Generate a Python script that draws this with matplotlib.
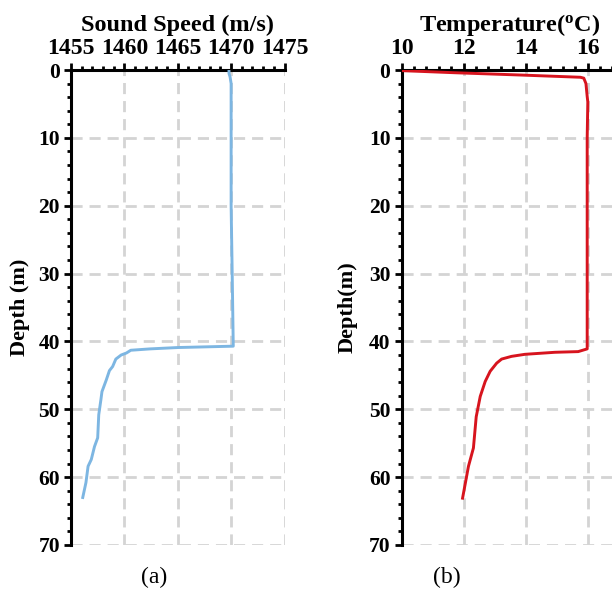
import matplotlib
matplotlib.use("Agg")
import matplotlib.pyplot as plt
from matplotlib.ticker import MultipleLocator

plt.rcParams['font.family'] = ['Liberation Serif', 'DejaVu Serif']
plt.rcParams['font.weight'] = 'bold'
plt.rcParams['mathtext.fontset'] = 'custom'
plt.rcParams['mathtext.rm'] = 'Liberation Serif:bold'
plt.rcParams['mathtext.bf'] = 'Liberation Serif:bold'
plt.rcParams['mathtext.it'] = 'Liberation Serif:bold'

# Sound speed profile
depth_ss = [0, 0.5, 1.0, 2, 10, 20, 30, 40.7, 40.9, 41.1, 41.3, 41.7, 42.0, 42.6,
            43.7, 44.3, 45.7, 47.4, 48.6, 50.8, 54.2, 55.5, 57.4, 58.4, 60.8, 63.0]
speed = [1469.8, 1469.8, 1469.9, 1470.0, 1470.0, 1470.0, 1470.1, 1470.2, 1465.0,
         1462.4, 1460.6, 1460.2, 1459.7, 1459.2, 1458.9, 1458.6, 1458.3, 1457.9,
         1457.8, 1457.6, 1457.5, 1457.2, 1456.9, 1456.6, 1456.4, 1456.1]

# Temperature profile
depth_t = [0.1, 0.4, 0.74, 1.07, 1.2, 2.0, 3.9, 4.7, 10, 20, 30, 41.1, 41.5, 41.6,
           41.9, 42.2, 42.6, 43.2, 44.4, 45.9, 48.1, 51.1, 55.7, 58.4, 63.1]
temp = [10.05, 11.7, 13.84, 15.77, 15.88, 15.95, 15.99, 16.01, 15.99, 15.99, 15.99,
        15.99, 15.7, 14.95, 13.98, 13.55, 13.23, 13.07, 12.86, 12.7, 12.54, 12.41,
        12.32, 12.16, 11.97]

ss_ticks = [1455, 1460, 1465, 1470, 1475]
t_ticks = [10, 12, 14, 16]
depth_ticks = [0, 10, 20, 30, 40, 50, 60, 70]

fig = plt.figure(figsize=(6.12, 5.90), dpi=100)
ax1 = fig.add_axes([71 / 612, 45 / 590, 213.5 / 612, 475 / 590])
ax2 = fig.add_axes([401.5 / 612, 45 / 590, 217 / 612, 475 / 590])


def style(ax, xlim, xticks, xminor, xlabel, ylabel, ylabx, panel, panelx):
    ax.set_xlim(*xlim)
    ax.set_ylim(70, 0)
    ax.set_xticks(xticks)
    ax.set_yticks(depth_ticks)
    ax.xaxis.set_minor_locator(MultipleLocator(xminor))
    ax.yaxis.set_minor_locator(MultipleLocator(2))
    ax.xaxis.tick_top()
    ax.xaxis.set_label_position('top')
    for s in ['right', 'bottom']:
        ax.spines[s].set_visible(False)
    for s in ['left', 'top']:
        ax.spines[s].set_linewidth(2.2)
    ax.tick_params(which='major', direction='out', length=5, width=2, pad=3)
    ax.tick_params(axis='x', which='major', labelsize=17)
    ax.tick_params(axis='y', which='major', labelsize=15.5)
    ax.tick_params(which='minor', direction='out', length=3, width=2)
    for lab in ax.get_xticklabels() + ax.get_yticklabels():
        lab.set_fontweight('bold')
    ax.grid(True, which='major', color='#d4d4d4', linewidth=2,
            linestyle=(0, (4, 2.5)))
    ax.set_axisbelow(True)
    ax.set_xlabel(xlabel, fontsize=17.5, fontweight='bold', labelpad=5)
    ax.set_ylabel(ylabel, fontsize=16, fontweight='bold')
    ax.yaxis.set_label_coords(ylabx, 0.5)
    ax.text(panelx, -0.068, panel, transform=ax.transAxes, ha='center',
            va='center', fontsize=17, fontweight='normal')


ax1.plot(speed, depth_ss, color='#7db6e2', linewidth=2.1, zorder=3)
style(ax1, (1455, 1475), ss_ticks, 1, 'Sound Speed (m/s)', 'Depth (m)',
      -0.19, '(a)', 0.39)

ax2.plot(temp, depth_t, color='#d7141e', linewidth=2.1, zorder=3)
style(ax2, (10, 17), t_ticks, 0.4, r'Temperature($^{\rm o}$C)', 'Depth(m)',
      -0.2, '(b)', 0.21)

fig.savefig('out.png', dpi=100)
